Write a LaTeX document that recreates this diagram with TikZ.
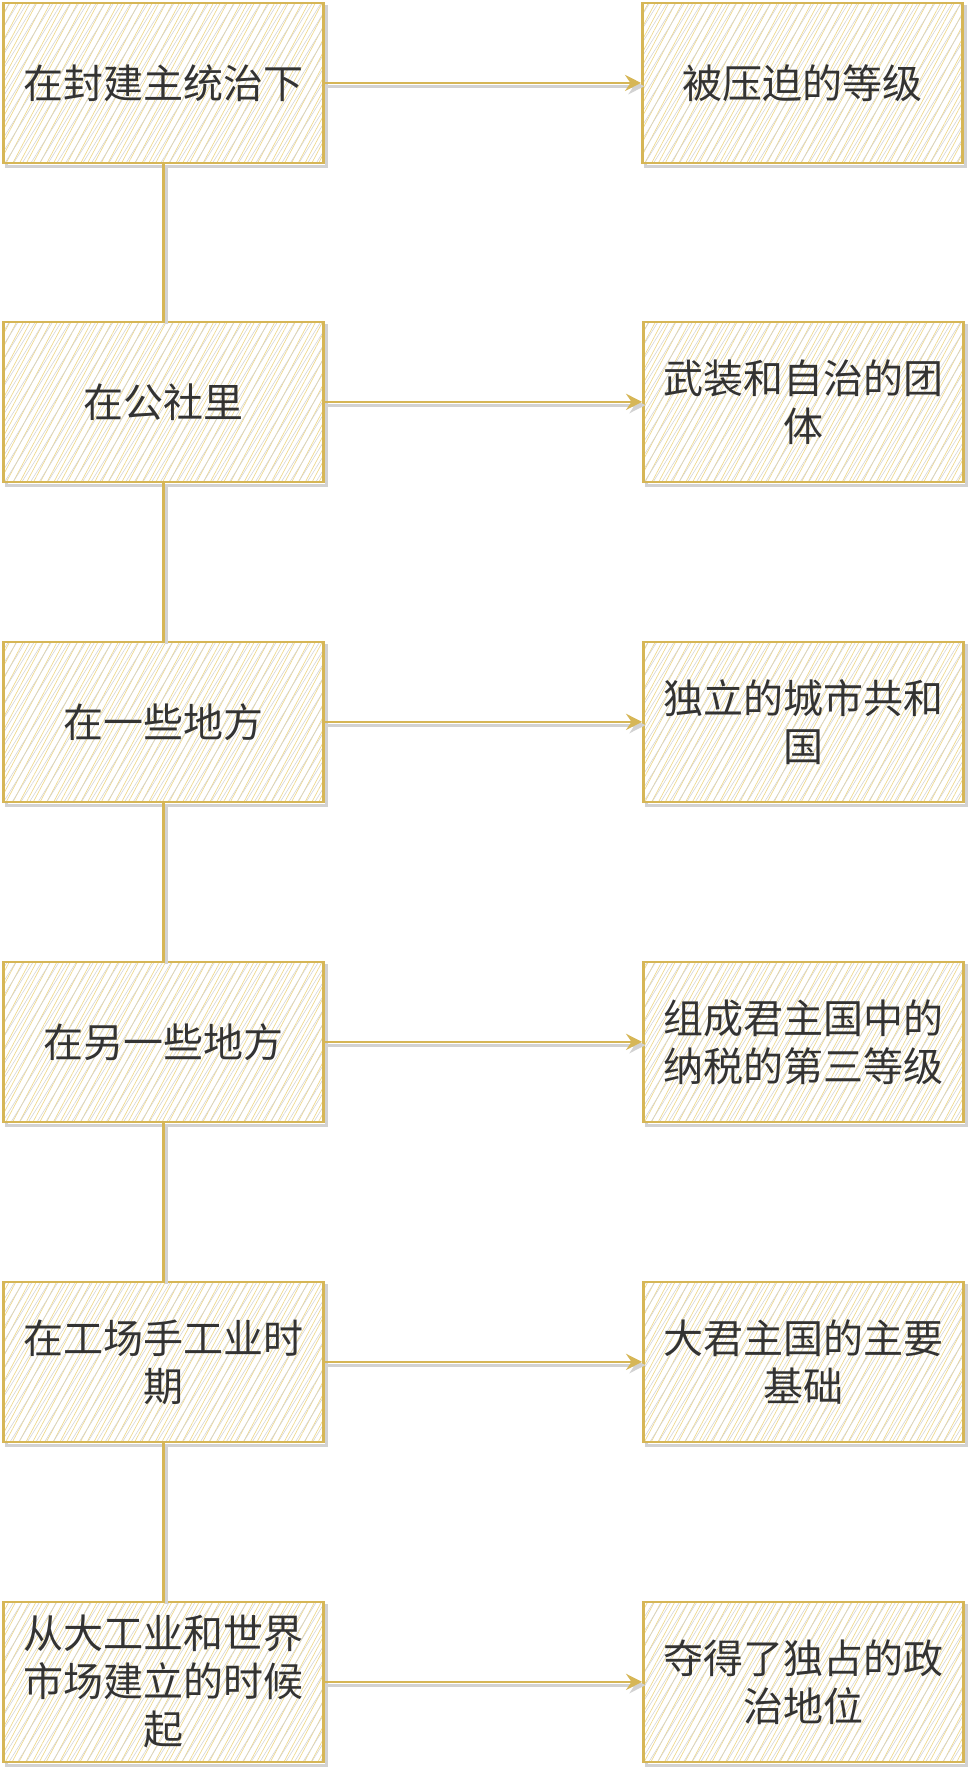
\documentclass[tikz,border=0pt]{standalone}
\usepackage{fontspec}
\usepackage{tikz}
\usetikzlibrary{arrows.meta,positioning,patterns.meta,shadows}
\newfontfamily\cjk{Noto Sans CJK SC}
\definecolor{boxgold}{RGB}{214,182,86}
\definecolor{hatchgold}{RGB}{238,216,140}
\definecolor{inkgray}{RGB}{51,51,51}

\begin{document}
\begin{tikzpicture}[
    node distance=118pt and 238pt,
    every node/.style={font=\cjk\fontsize{30pt}{36pt}\selectfont, text=inkgray},
    stage/.style={rectangle, draw=boxgold, line width=2pt,
                  minimum width=240pt, minimum height=120pt, text width=224pt, align=center,
                  general shadow={draw=gray!35, line width=2pt, shadow xshift=2.5pt, shadow yshift=-2.5pt},
                  preaction={fill=white},
                  preaction={pattern={Lines[angle=62,distance=4.5pt,line width=0.5pt]}, pattern color=hatchgold},
                  pattern={Lines[angle=58,distance=5.5pt,line width=0.4pt,xshift=2pt]}, pattern color=gray!35},
    link/.style={draw=boxgold, line width=2pt,
                 preaction={draw=gray!35, line width=2pt, transform canvas={xshift=2.5pt, yshift=-2.5pt}}},
    arrow/.style={link, -{Stealth[length=12pt, width=12pt, inset=4pt]}}
]
\useasboundingbox (0,0) rectangle (727.5pt,-1329pt);

% Left column
\node[stage] (feudal) at (122.6pt,-62.2pt) {在封建主统治下};
\node[stage, below=of feudal]  (commune) {在公社里};
\node[stage, below=of commune] (some)    {在一些地方};
\node[stage, below=of some]    (other)   {在另一些地方};
\node[stage, below=of other]   (manuf)   {在工场手工业时\\期};
\node[stage, below=of manuf]   (industry) {从大工业和世界\\市场建立的时候\\起};

% Right column
\node[stage, right=of feudal]   (oppressed) {被压迫的等级};
\node[stage, right=of commune]  (armed)     {武装和自治的团\\体};
\node[stage, right=of some]     (republic)  {独立的城市共和\\国};
\node[stage, right=of other]    (estate)    {组成君主国中的\\纳税的第三等级};
\node[stage, right=of manuf]    (basis)     {大君主国的主要\\基础};
\node[stage, right=of industry] (power)     {夺得了独占的政\\治地位};

% Vertical links
\draw[link] (feudal)  -- (commune);
\draw[link] (commune) -- (some);
\draw[link] (some)    -- (other);
\draw[link] (other)   -- (manuf);
\draw[link] (manuf)   -- (industry);

% Arrows
\draw[arrow] (feudal)   -- (oppressed);
\draw[arrow] (commune)  -- (armed);
\draw[arrow] (some)     -- (republic);
\draw[arrow] (other)    -- (estate);
\draw[arrow] (manuf)    -- (basis);
\draw[arrow] (industry) -- (power);

\end{tikzpicture}
\end{document}
